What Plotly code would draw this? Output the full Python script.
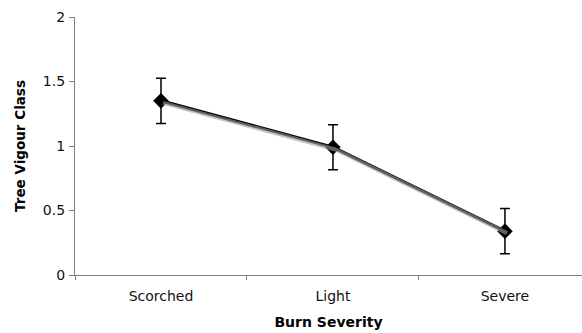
import plotly.graph_objects as go

categories = ["Scorched", "Light", "Severe"]
vigour = [1.35, 0.99, 0.34]
vigour_err = [0.175, 0.175, 0.175]
y_ticks = [0, 0.5, 1, 1.5, 2]
y_tick_labels = ["0", "0.5", "1", "1.5", "2"]

font = "DejaVu Sans, Verdana, sans-serif"

fig = go.Figure()

# soft drop shadow under the line, drawn on a slightly shifted overlay axis
fig.add_trace(go.Scatter(
    x=categories, y=vigour, mode="lines",
    line=dict(color="rgba(160,160,160,0.6)", width=4),
    xaxis="x2", yaxis="y2", hoverinfo="skip", showlegend=False,
))

fig.add_trace(go.Scatter(
    x=categories, y=vigour, mode="lines+markers",
    line=dict(color="black", width=3.2),
    marker=dict(symbol="diamond", size=12, color="black"),
    error_y=dict(type="data", array=vigour_err, visible=True,
                 color="black", thickness=1.5, width=5),
    showlegend=False,
))

x_range = [-0.5, 2.448]
y_range = [0, 2]
# shift of ~2 px right and down for the shadow axis
dx = 2 / 172.0
dy = 2 / 129.0

fig.update_layout(
    width=582, height=333,
    margin=dict(l=75, r=0, t=17, b=58),
    paper_bgcolor="white", plot_bgcolor="white",
    font=dict(family=font, size=14, color="#111"),
    xaxis=dict(
        type="category", range=x_range,
        showline=True, linecolor="#808080", linewidth=1.2,
        ticks="outside", ticklen=4, tickcolor="#808080",
        tickson="boundaries", showgrid=False, zeroline=False,
        ticklabelstandoff=8,
        title=dict(text="<b>Burn Severity</b>", font=dict(size=14, color="#000"), standoff=14),
        tickfont=dict(size=14, color="#111"),
    ),
    yaxis=dict(
        range=y_range, tickvals=y_ticks, ticktext=y_tick_labels,
        showline=True, linecolor="#808080", linewidth=1.2,
        ticks="outside", ticklen=5, tickcolor="#808080",
        showgrid=False, zeroline=False,
        ticklabelstandoff=1,
        title=dict(text="<b>Tree Vigour Class</b>", font=dict(size=13.5, color="#000"), standoff=14),
        tickfont=dict(size=14, color="#111"),
    ),
    xaxis2=dict(type="category", range=[x_range[0] - dx, x_range[1] - dx],
                overlaying="x", visible=False),
    yaxis2=dict(range=[y_range[0] + dy, y_range[1] + dy],
                overlaying="y", visible=False),
)

fig.write_html("out.html")
